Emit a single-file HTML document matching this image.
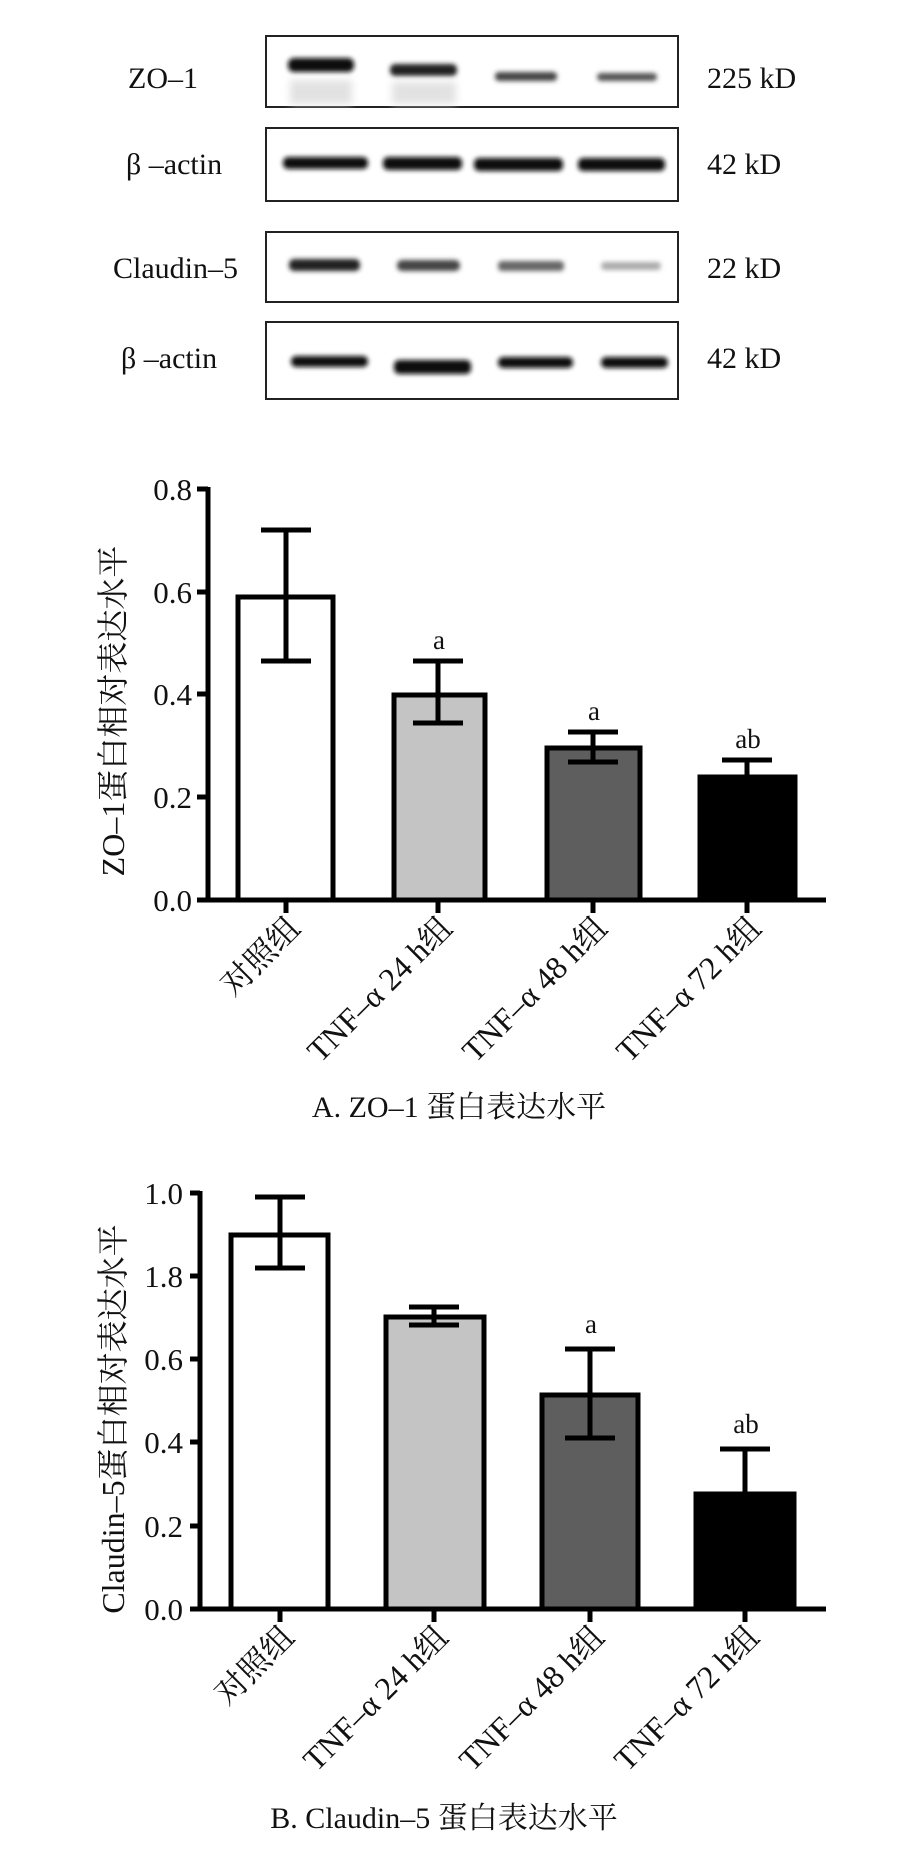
<!DOCTYPE html>
<html><head><meta charset="utf-8"><style>
html,body{margin:0;padding:0;background:#fff;}
svg{display:block;}
text{font-family:"Liberation Serif","Noto Serif CJK SC",serif;fill:#111;}
</style></head><body>
<svg width="921" height="1856" viewBox="0 0 921 1856" xmlns="http://www.w3.org/2000/svg">
<defs>
<filter id="b" x="-20%" y="-100%" width="140%" height="300%"><feGaussianBlur stdDeviation="2.5"/></filter>
<filter id="b2" x="-20%" y="-100%" width="140%" height="300%"><feGaussianBlur stdDeviation="4"/></filter>
</defs>
<g fill="none" stroke="#222" stroke-width="2">
<rect x="266" y="36" width="412" height="71"/>
<rect x="266" y="128" width="412" height="73"/>
<rect x="266" y="232" width="412" height="70"/>
<rect x="266" y="322" width="412" height="77"/>
</g>
<g filter="url(#b)">
<rect x="288" y="58" width="66" height="14" rx="6" fill="#111"/>
<rect x="390" y="64" width="67" height="12" rx="5" fill="#222"/>
<rect x="495" y="72" width="62" height="9" rx="4" fill="#444"/>
<rect x="597" y="73" width="60" height="8" rx="4" fill="#555"/>
<rect x="283" y="157" width="85" height="12" rx="5" fill="#111"/>
<rect x="383" y="157" width="79" height="13" rx="5" fill="#111"/>
<rect x="474" y="158" width="89" height="13" rx="5" fill="#111"/>
<rect x="578" y="158" width="87" height="13" rx="5" fill="#111"/>
<rect x="289" y="259" width="71" height="12" rx="5" fill="#222"/>
<rect x="397" y="260" width="63" height="11" rx="5" fill="#444"/>
<rect x="498" y="261" width="66" height="10" rx="4" fill="#666"/>
<rect x="601" y="262" width="60" height="8" rx="4" fill="#aaa"/>
<rect x="291" y="356" width="77" height="11" rx="5" fill="#111"/>
<rect x="394" y="360" width="77" height="14" rx="5" fill="#111"/>
<rect x="498" y="357" width="75" height="11" rx="5" fill="#111"/>
<rect x="601" y="357" width="67" height="11" rx="5" fill="#111"/>
</g>
<g filter="url(#b2)" fill="#e2e2e2">
<rect x="290" y="80" width="62" height="24"/>
<rect x="392" y="82" width="64" height="22"/>
</g>
<g font-size="30">
<text x="128" y="88">ZO–1</text>
<text x="126" y="174">β –actin</text>
<text x="113" y="278">Claudin–5</text>
<text x="121" y="368">β –actin</text>
<text x="707" y="88">225 kD</text>
<text x="707" y="174">42 kD</text>
<text x="707" y="278">22 kD</text>
<text x="707" y="368">42 kD</text>
</g>

<g stroke="#000" stroke-width="5" fill="none">
<rect x="238" y="597" width="95" height="303" fill="#fff"/>
<rect x="394" y="695" width="91" height="205" fill="#c4c4c4"/>
<rect x="547" y="748" width="93" height="152" fill="#5e5e5e"/>
<rect x="700" y="777" width="95" height="123" fill="#000"/>
<line x1="208" y1="487" x2="208" y2="902"/>
<line x1="206" y1="900" x2="826" y2="900"/>
<line x1="197" y1="489" x2="208" y2="489"/>
<line x1="197" y1="592" x2="208" y2="592"/>
<line x1="197" y1="694" x2="208" y2="694"/>
<line x1="197" y1="797" x2="208" y2="797"/>
<line x1="197" y1="900" x2="208" y2="900"/>
<line x1="286" y1="900" x2="286" y2="913"/>
<line x1="438" y1="900" x2="438" y2="913"/>
<line x1="593" y1="900" x2="593" y2="913"/>
<line x1="747" y1="900" x2="747" y2="913"/>
<line x1="286" y1="530" x2="286" y2="661"/><line x1="261" y1="530" x2="311" y2="530"/><line x1="261" y1="661" x2="311" y2="661"/>
<line x1="438" y1="661" x2="438" y2="723"/><line x1="413" y1="661" x2="463" y2="661"/><line x1="413" y1="723" x2="463" y2="723"/>
<line x1="593" y1="732" x2="593" y2="762"/><line x1="568" y1="732" x2="618" y2="732"/><line x1="568" y1="762" x2="618" y2="762"/>
<line x1="747" y1="760" x2="747" y2="777"/><line x1="722" y1="760" x2="772" y2="760"/>
</g>
<g font-size="31" text-anchor="end">
<text x="192" y="500">0.8</text>
<text x="192" y="603">0.6</text>
<text x="192" y="705">0.4</text>
<text x="192" y="808">0.2</text>
<text x="192" y="911">0.0</text>
</g>
<g font-size="27" text-anchor="middle">
<text x="439" y="649">a</text>
<text x="594" y="720">a</text>
<text x="748" y="748">ab</text>
</g>
<g font-size="32" text-anchor="end">
<text transform="translate(302,930) rotate(-45)">对照组</text>
<text transform="translate(454,930) rotate(-45)">TNF–α 24 h组</text>
<text transform="translate(609,930) rotate(-45)">TNF–α 48 h组</text>
<text transform="translate(763,930) rotate(-45)">TNF–α 72 h组</text>
</g>
<text transform="translate(124,711) rotate(-90)" font-size="32" text-anchor="middle">ZO–1蛋白相对表达水平</text>
<text x="459" y="1117" font-size="30" text-anchor="middle">A. ZO–1 蛋白表达水平</text>

<g stroke="#000" stroke-width="5" fill="none">
<rect x="231" y="1235" width="97" height="374" fill="#fff"/>
<rect x="386" y="1317" width="98" height="292" fill="#c4c4c4"/>
<rect x="542" y="1395" width="96" height="214" fill="#5e5e5e"/>
<rect x="696" y="1494" width="98" height="115" fill="#000"/>
<line x1="200" y1="1191" x2="200" y2="1611"/>
<line x1="198" y1="1609" x2="826" y2="1609"/>
<line x1="190" y1="1193" x2="200" y2="1193"/>
<line x1="190" y1="1276" x2="200" y2="1276"/>
<line x1="190" y1="1359" x2="200" y2="1359"/>
<line x1="190" y1="1442" x2="200" y2="1442"/>
<line x1="190" y1="1526" x2="200" y2="1526"/>
<line x1="190" y1="1609" x2="200" y2="1609"/>
<line x1="280" y1="1609" x2="280" y2="1622"/>
<line x1="434" y1="1609" x2="434" y2="1622"/>
<line x1="590" y1="1609" x2="590" y2="1622"/>
<line x1="745" y1="1609" x2="745" y2="1622"/>
<line x1="280" y1="1197" x2="280" y2="1268"/><line x1="255" y1="1197" x2="305" y2="1197"/><line x1="255" y1="1268" x2="305" y2="1268"/>
<line x1="434" y1="1307" x2="434" y2="1325"/><line x1="409" y1="1307" x2="459" y2="1307"/><line x1="409" y1="1325" x2="459" y2="1325"/>
<line x1="590" y1="1349" x2="590" y2="1438"/><line x1="565" y1="1349" x2="615" y2="1349"/><line x1="565" y1="1438" x2="615" y2="1438"/>
<line x1="745" y1="1449" x2="745" y2="1494"/><line x1="720" y1="1449" x2="770" y2="1449"/>
</g>
<g font-size="31" text-anchor="end">
<text x="183" y="1204">1.0</text>
<text x="183" y="1287">1.8</text>
<text x="183" y="1370">0.6</text>
<text x="183" y="1453">0.4</text>
<text x="183" y="1537">0.2</text>
<text x="183" y="1620">0.0</text>
</g>
<g font-size="27" text-anchor="middle">
<text x="591" y="1333">a</text>
<text x="746" y="1433">ab</text>
</g>
<g font-size="32" text-anchor="end">
<text transform="translate(296,1639) rotate(-45)">对照组</text>
<text transform="translate(450,1639) rotate(-45)">TNF–α 24 h组</text>
<text transform="translate(606,1639) rotate(-45)">TNF–α 48 h组</text>
<text transform="translate(761,1639) rotate(-45)">TNF–α 72 h组</text>
</g>
<text transform="translate(124,1419) rotate(-90)" font-size="32" text-anchor="middle">Claudin–5蛋白相对表达水平</text>
<text x="444" y="1828" font-size="30" text-anchor="middle">B. Claudin–5 蛋白表达水平</text>
</svg>
</body></html>
